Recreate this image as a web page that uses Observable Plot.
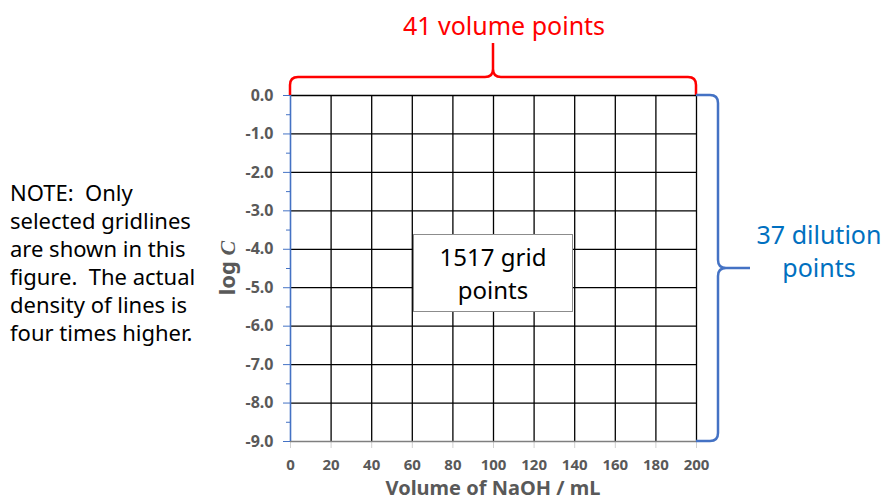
<!DOCTYPE html>
<html>
<head>
<meta charset="utf-8">
<script src="https://cdn.jsdelivr.net/npm/d3@7"></script>
<script src="https://cdn.jsdelivr.net/npm/@observablehq/plot@0.6"></script>
<style>
  html, body { margin: 0; padding: 0; background: #fff; }
  #wrap { position: relative; width: 884px; height: 501px; font-family: "Noto Sans", "Open Sans", sans-serif; }
  #note { position: absolute; left: 10px; top: 178px; font-size: 22px; line-height: 28px; color: #000; white-space: pre; }
  #box { position: absolute; border: 1px solid #8c8c8c; background: #fff; text-align: center; font-size: 24px; line-height: 33px; color: #000; box-sizing: border-box; padding-top: 5px; }
</style>
</head>
<body>
<div id="wrap"></div>
<script>
// ---- data ----
const volumeTicks = [0, 20, 40, 60, 80, 100, 120, 140, 160, 180, 200];
const logCTicks = [0, -1, -2, -3, -4, -5, -6, -7, -8, -9];
const logCTickLabels = ["0.0", "-1.0", "-2.0", "-3.0", "-4.0", "-5.0", "-6.0", "-7.0", "-8.0", "-9.0"];
const logCMinorTicks = [-0.5, -1.5, -2.5, -3.5, -4.5, -5.5, -6.5, -7.5, -8.5];
const volumePoints = 41;
const dilutionPoints = 37;
const gridPoints = 1517;
const noteLines = ["NOTE:  Only", "selected gridlines", "are shown in this", "figure.  The actual", "density of lines is", "four times higher."];
const xLabel = "Volume of NaOH / mL";

const W = 884, H = 501;
const plot = Plot.plot({
  width: W, height: H,
  marginLeft: 290, marginRight: 188, marginTop: 95, marginBottom: 60,
  style: { fontFamily: '"Noto Sans", sans-serif', background: "#fff", overflow: "visible" },
  x: { domain: [0, 200], label: null },
  y: { domain: [-9, 0], label: null },
  marks: [
    Plot.ruleX(volumeTicks.filter(d => d > 0), { stroke: "#000", strokeWidth: 1.3 }),
    Plot.ruleY(logCTicks.filter(d => d > -9), { stroke: "#000", strokeWidth: 1.3 }),
    Plot.axisY(logCMinorTicks, { tickSize: 4, tickFormat: () => "", stroke: "#4472C4", strokeWidth: 1 }),
    Plot.axisY(logCTicks, {
      tickSize: 7, tickPadding: 10, stroke: "#4472C4", strokeWidth: 1,
      fill: "#595959", fontSize: 16, fontWeight: "bold", label: null,
      tickFormat: d => logCTickLabels[logCTicks.indexOf(d)]
    }),
    Plot.axisX(volumeTicks, {
      tickSize: 7, tickPadding: 11, stroke: "#d0d0d0", strokeWidth: 1,
      fill: "#595959", fontSize: 15, fontWeight: "bold", label: null,
      tickFormat: d => String(d)
    }),
    Plot.ruleY([-9], { stroke: "#7f7f7f", strokeWidth: 1.6 }),
    Plot.ruleX([0], { stroke: "#4472C4", strokeWidth: 1.6 })
  ]
});

const wrap = document.getElementById("wrap");
wrap.appendChild(plot);

const x = plot.scale("x"), y = plot.scale("y");
const svg = d3.select(plot);
const x0 = x.apply(0), x1 = x.apply(200), y0 = y.apply(0), y1 = y.apply(-9);
const xm = (x0 + x1) / 2, ym = (y0 + y1) / 2;

// red bracket (top)
const by = y0 - 18, bt = y0 - 52, r = 8;
svg.append("path")
  .attr("d", `M${x0},${y0} L${x0},${by + r} Q${x0},${by} ${x0 + r},${by} L${xm - r},${by} Q${xm},${by} ${xm},${by - r} L${xm},${bt} M${xm},${by - r} Q${xm},${by} ${xm + r},${by} L${x1 - r},${by} Q${x1},${by} ${x1},${by + r} L${x1},${y0}`)
  .attr("fill", "none").attr("stroke", "#ff0000").attr("stroke-width", 2.5);
svg.append("text").attr("x", xm + 11).attr("y", 35).attr("text-anchor", "middle")
  .attr("fill", "#ff0000").attr("font-size", 25).text(`${volumePoints} volume points`);

// blue bracket (right)
const bx = x1 + 22, bp = x1 + 54;
svg.append("path")
  .attr("d", `M${x1},${y0} L${bx - r},${y0} Q${bx},${y0} ${bx},${y0 + r} L${bx},${ym - r} Q${bx},${ym} ${bx + r},${ym} L${bp},${ym} M${bx + r},${ym} Q${bx},${ym} ${bx},${ym + r} L${bx},${y1 - r} Q${bx},${y1} ${bx - r},${y1} L${x1},${y1}`)
  .attr("fill", "none").attr("stroke", "#4472C4").attr("stroke-width", 2.5);
svg.append("text").attr("x", 819).attr("y", 244).attr("text-anchor", "middle")
  .attr("fill", "#0070C0").attr("font-size", 25).text(`${dilutionPoints} dilution`);
svg.append("text").attr("x", 819).attr("y", 277).attr("text-anchor", "middle")
  .attr("fill", "#0070C0").attr("font-size", 25).text("points");

// axis labels
const yl = svg.append("text").attr("transform", `translate(235,${ym}) rotate(-90)`)
  .attr("text-anchor", "middle").attr("fill", "#595959").attr("font-size", 22).attr("font-weight", "bold");
yl.append("tspan").text("log ");
yl.append("tspan").attr("font-style", "italic").attr("font-family", "Liberation Serif, serif").text("C");
svg.append("text").attr("x", xm).attr("y", 495).attr("text-anchor", "middle")
  .attr("fill", "#595959").attr("font-size", 20).attr("font-weight", "bold").text(xLabel);

// note
const note = document.createElement("div");
note.id = "note";
note.textContent = noteLines.join("\n");
wrap.appendChild(note);

// grid-points box
const box = document.createElement("div");
box.id = "box";
box.style.left = "413px"; box.style.top = "234px";
box.style.width = "160px"; box.style.height = "78px";
box.innerHTML = `${gridPoints} grid<br>points`;
wrap.appendChild(box);
</script>
</body>
</html>
